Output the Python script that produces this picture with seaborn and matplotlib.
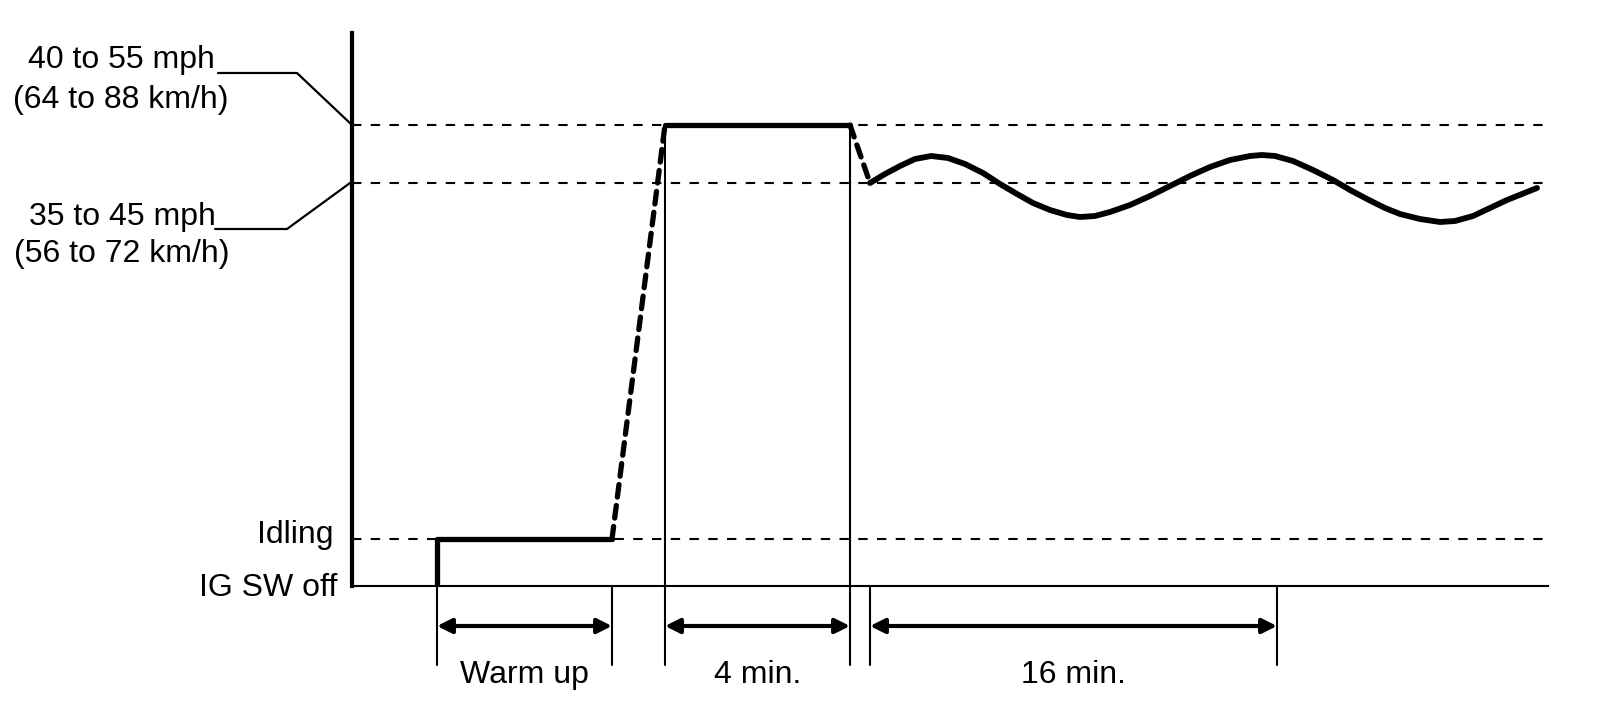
import matplotlib
matplotlib.use("Agg")
import matplotlib.pyplot as plt
import seaborn as sns
import numpy as np

# ---- data (schematic units: time along x, vehicle speed level along y) ----
level_names = ["IG SW off", "Idling", "35 to 45 mph\n(56 to 72 km/h)", "40 to 55 mph\n(64 to 88 km/h)"]
level_values = [0, 47, 403, 461]          # off, idle, low band, high band

# key times
t_start = 85        # ignition on / start of warm up
t_warm_end = 260    # end of warm up
t_hold_start = 313  # reach 40-55 mph
t_hold_end = 498    # end of 4 min hold
t_cruise_start = 518
t_cruise_end = 925  # end of 16 min

# idle segment (solid)
idle_x = [t_start, t_start, t_warm_end]
idle_y = [0, 47, 47]
# acceleration (dotted)
accel_x = [t_warm_end, t_hold_start]
accel_y = [47, 461]
# 4 min hold (solid)
hold_x = [t_hold_start, t_hold_end]
hold_y = [461, 461]
# decel (dotted)
decel_x = [t_hold_end, t_cruise_start]
decel_y = [461, 403]
# cruising wave
wave_x = [518, 533, 548, 563, 579, 596, 613, 631, 648, 665, 681, 698, 715, 728,
          743, 758, 778, 798, 818, 838, 858, 878, 898, 910, 923, 941, 961, 981,
          998, 1015, 1033, 1048, 1068, 1088, 1103, 1121, 1138, 1155, 1170, 1185]
wave_y = [403, 412, 420, 427, 430, 428, 422, 413, 402, 392, 383, 376, 371, 369,
          370, 374, 381, 390, 400, 410, 419, 426, 430, 431, 430, 425, 416, 406,
          396, 387, 378, 372, 367, 364, 365, 370, 378, 386, 392, 398]

# interval annotations
spans = [(t_start, t_warm_end, "Warm up"), (t_hold_start, t_hold_end, "4 min."),
         (t_cruise_start, t_cruise_end, "16 min.")]

sns.set_style("white")
plt.rcParams['font.family'] = ['Liberation Sans', 'DejaVu Sans']
plt.rcParams['text.color'] = 'black'

W, H = 1600, 712
fig = plt.figure(figsize=(16, 7.12), dpi=100)
ax = fig.add_axes([352 / W, (H - 586) / H, (1548 - 352) / W, (586 - 33) / H])
ax.set_xlim(0, 1196)
ax.set_ylim(0, 553)
ax.set_xticks([])
ax.set_yticks([])
for s in ["top", "right"]:
    ax.spines[s].set_visible(False)
ax.spines["left"].set_linewidth(3.0)
ax.spines["left"].set_color("black")
ax.spines["bottom"].set_linewidth(1.5)
ax.spines["bottom"].set_color("black")

fs = 23
thick = 3.8

# dashed reference levels
for lv in level_values[1:]:
    ax.plot([0, 1196], [lv, lv], color="black", lw=1.5, linestyle=(0, (4.5, 4.5)),
            clip_on=False)

# vertical guide lines
ax.plot([t_start, t_start], [0, -79], color="black", lw=1.5, clip_on=False)
ax.plot([t_warm_end, t_warm_end], [0, -79], color="black", lw=1.5, clip_on=False)
ax.plot([t_hold_start, t_hold_start], [461, -79], color="black", lw=1.5, clip_on=False)
ax.plot([t_hold_end, t_hold_end], [461, -79], color="black", lw=1.5, clip_on=False)
ax.plot([t_cruise_start, t_cruise_start], [0, -79], color="black", lw=1.5, clip_on=False)
ax.plot([t_cruise_end, t_cruise_end], [0, -79], color="black", lw=1.5, clip_on=False)

# speed profile
sns.lineplot(x=idle_x, y=idle_y, sort=False, estimator=None, color="black", lw=thick, ax=ax)
sns.lineplot(x=hold_x, y=hold_y, sort=False, estimator=None, color="black", lw=thick, ax=ax)
sns.lineplot(x=wave_x, y=wave_y, sort=False, estimator=None, color="black", lw=4.2, ax=ax,
             solid_joinstyle="round", solid_capstyle="round")
ax.plot(accel_x, accel_y, color="black", lw=thick, linestyle=(0, (2.4, 1.6)),
        dash_capstyle="round")
ax.plot(decel_x, decel_y, color="black", lw=thick, linestyle=(0, (2.4, 1.6)),
        dash_capstyle="round")

# interval arrows and labels
for a, b, lab in spans:
    ax.annotate("", xy=(a, -40), xytext=(b, -40),
                arrowprops=dict(arrowstyle="<|-|>", color="black", lw=3,
                                mutation_scale=22, shrinkA=0, shrinkB=0),
                annotation_clip=False)
    ax.text((a + b) / 2, -97, lab, ha="center", va="baseline", fontsize=fs, color="black")

# left labels
ax.text(-19, 43, level_names[1], ha="right", va="baseline", fontsize=fs, color="black")
ax.text(-15, -10, level_names[0], ha="right", va="baseline", fontsize=fs, color="black")
hi1, hi2 = level_names[3].split("\n")
lo1, lo2 = level_names[2].split("\n")
ax.text(-231, 518, hi1, ha="center", va="baseline", fontsize=fs, color="black")
ax.text(-231, 478, hi2, ha="center", va="baseline", fontsize=fs, color="black")
ax.text(-230, 361, lo1, ha="center", va="baseline", fontsize=fs, color="black")
ax.text(-230, 324, lo2, ha="center", va="baseline", fontsize=fs, color="black")

# leader lines
ax.plot([-134, -55, 0], [513, 513, 461], color="black", lw=1.6, clip_on=False)
ax.plot([-137, -65, -2], [357, 357, 403], color="black", lw=1.6, clip_on=False)

fig.savefig("out.png", dpi=100, facecolor="white")
